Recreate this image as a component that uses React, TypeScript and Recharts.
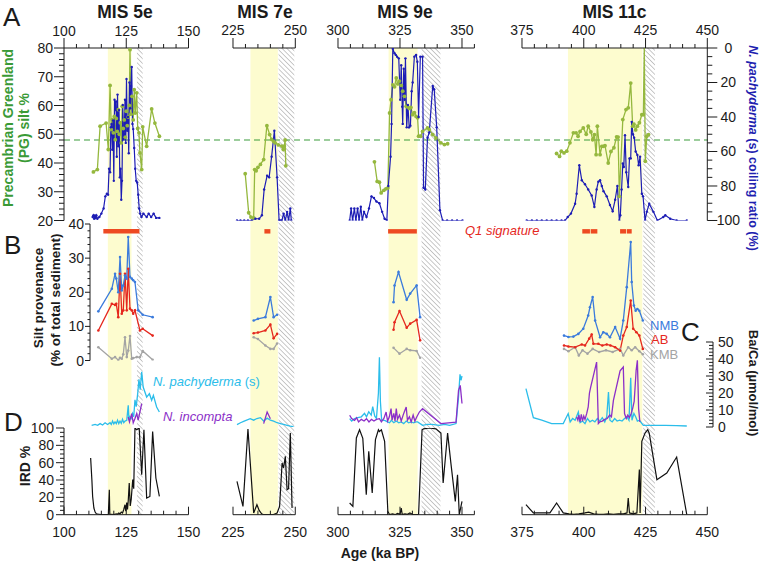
import React from 'react';
import { ComposedChart, Line, XAxis, YAxis, ReferenceArea, ReferenceLine } from 'recharts';

const FONT = '"Liberation Sans", Arial, Helvetica, sans-serif';
const INK = '#1b1b1b';
const C_PG = '#95B83E';
const C_COIL = '#1D1DB5';
const C_NMB = '#3B7BDC';
const C_AB = '#E5281E';
const C_KMB = '#A4A4A4';
const C_PACHY = '#2BBDEA';
const C_INC = '#8C2FC8';
const C_Q1 = '#EE4A22';
const C_YEL = '#FDFCCF';
const C_DASH = '#3A9C3A';
const C_GREEN_TXT = '#3A9A36';
const C_BLUE_TXT = '#1F1FB0';

type P = [number, number];

// ---------------- categories / axes ----------------
const misTitles = ['MIS 5e', 'MIS 7e', 'MIS 9e', 'MIS 11c'];
const ageDomains: [number, number][] = [[100, 150], [225, 250], [300, 355], [375, 450]];
const ageMajor: number[][] = [[100, 125, 150], [225, 250], [300, 325, 350], [375, 400, 425, 450]];
const interglacial: [number, number][] = [[117.6, 127.1], [232, 243], [320.4, 332.1], [393.6, 423.7]];
const termination: [number, number][] = [[129.3, 131.6], [243.3, 249.6], [333.7, 341.3], [424.1, 428.8]];
const q1Signature: [number, number][][] = [
  [[115.8, 130.3]],
  [[237.6, 240]],
  [[320.2, 331.8]],
  [[399.4, 402.5], [402.8, 405.5], [414.7, 417.1], [417.4, 419.4]],
];
const pgThreshold = 48;
const pgMajor = [20, 30, 40, 50, 60, 70, 80];
const coilMajor = [0, 20, 40, 60, 80, 100];
const siltMajor = [0, 10, 20, 30, 40];
const baMajor = [0, 10, 20, 30, 40, 50];
const irdMajor = [0, 20, 40, 60, 80, 100];

// ---------------- Panel A: PG silt % ----------------
const pg5e: P[] = [[111.8,36.9],[113.4,37.7],[114.5,52.8],[116.9,53.9],[117.8,44.7],[118.5,67],[119,51.6],[119.4,55.1],[119.8,50.5],[120.2,56.2],[120.6,48.1],[121,55.5],[121.4,51],[121.8,58.6],[122.2,50],[122.6,54],[123,47],[123.4,59.7],[123.8,52],[124.2,55],[124.6,49],[125,58],[125.4,53],[125.8,56],[126.2,60],[126.5,79.4],[126.9,57],[127.3,63.2],[127.8,55],[128.2,65.5],[128.6,57.4],[129.2,64.4],[129.6,52],[130.1,50.5],[130.5,43.5],[131.2,37.7],[131.6,52.6],[133.2,45.8],[135.2,58.8],[136.5,53.9],[138.3,49.3]];
const pg7e: P[] = [[229.9,36.3],[231.3,22.7],[232.2,21.2],[233.3,20.9],[233.7,37.7],[234.3,37.3],[235,38.5],[236,39.5],[237.3,41.2],[238.6,53],[239.7,49.9],[240.5,48.2],[241.3,47.5],[241.9,47],[243.2,46.3],[244.6,45.9],[245.2,44.7],[245.6,45.9],[245.9,48],[246.2,39]];
const pg9e: P[] = [[314.7,40.4],[315.8,33.6],[316.7,33.3],[317.4,29.6],[318.5,30.5],[319.3,31],[320.1,31.3],[320.8,57.4],[321.4,62],[322.1,67.2],[322.8,66.5],[323.5,69.6],[324.1,67.5],[324.8,68.5],[325.5,67],[326.1,65],[326.8,63.2],[327.5,59.7],[328.1,59.5],[328.8,59],[329.4,59.3],[330.1,56.8],[330.8,57.5],[331.5,56.2],[332.1,55.7],[332.5,49.3],[333.3,49.3],[334.1,51],[336.1,52.2],[336.8,51.6],[338.2,49.9],[339.5,48.7],[341.5,47],[342.9,46.4],[344.2,46.7]];
const pg11c: P[] = [[389,43.3],[390.2,42.3],[390.9,44.1],[392,43.5],[393.1,44.1],[394.4,47],[395.8,50.5],[396.9,50.5],[397.7,49.3],[398.5,51],[399.8,52.2],[401,50],[401.8,52.8],[402.9,50.8],[403.6,48.1],[404.3,49.9],[405,42.9],[405.5,52.8],[406.6,42.9],[407.3,45.8],[407.9,45.8],[408.6,46],[409.9,40],[411,44],[412.2,45.3],[413.3,49.1],[413.9,49],[414.4,28.4],[415.8,55.1],[417.1,58.6],[418,59.2],[419,67.8],[419.8,52.8],[420.3,53.5],[421,51.5],[421.7,52.8],[422.5,54],[423.5,56.8],[424.1,56.8],[424.5,80.5],[424.9,40.6],[425.5,49.3],[426.2,49.9]];

// ---------------- Panel A: N. pachyderma (s) coiling ratio ----------------
const coil5e: P[] = [[111.5,98],[111.8,97],[112.1,99],[112.4,97],[112.7,98.5],[113,97],[113.4,99],[114.2,98],[115,96],[115.9,93],[116.6,86],[117.2,84.5],[117.7,85],[118.1,70],[118.5,72],[118.8,46],[119.1,44],[119.4,59],[119.7,42],[120,77],[120.3,30],[120.6,36],[120.9,31],[121.2,63],[121.5,27],[121.8,57],[122.1,36],[122.4,75],[122.7,70],[123,88],[123.3,77],[123.6,33],[123.9,53],[124.2,50],[124.5,30],[124.8,55],[125.1,18],[125.4,48],[125.7,40],[126,61],[126.3,20],[126.6,35],[126.9,22],[127.2,11],[127.5,44],[127.8,47],[128.2,58],[128.6,70],[129,77],[129.4,78],[129.8,85],[130.2,93],[130.6,96],[131.1,98],[131.9,96],[133.2,98],[134,96],[135,98],[136,96],[137,98.5],[138.3,98.5]];
const coil7e: P[] = [[226.6,100],[228,100],[229.5,100],[231,100],[232.5,100],[234,99],[235.5,99],[236.6,97],[237.5,82],[238.7,74],[239.5,75],[240.5,63],[241.6,48],[242.7,75],[243.5,100],[244,100],[244.6,100],[245.3,96],[246,100],[246.7,95],[247.3,100],[248,93],[248.4,100]];
const coil9e: P[] = [[304.7,100],[305.3,93],[305.9,100],[306.6,93],[307.2,100],[307.9,93],[308.5,100],[309.2,92],[309.8,100],[310.5,95],[311.5,98],[312.5,93],[313.5,86],[314.5,87],[315.5,89],[316.7,90],[317.8,95],[318.8,99],[319.7,100],[320.3,80],[321.2,63],[321.6,44],[322.1,0.5],[322.8,3],[323.3,4],[323.8,5],[324.5,6],[325.1,30],[325.5,10],[325.9,34],[326.1,44],[326.5,12],[326.9,30],[327.2,6],[327.7,46],[328.2,33],[328.7,46],[329.2,45],[329.7,25],[330.1,20],[330.8,5],[331.5,4],[332,8],[332.5,40],[333.2,5],[334.1,5],[334.5,81],[335.2,82],[336.1,52],[336.8,49],[338.2,22],[338.8,24],[339.8,46],[341.1,94],[342.2,100],[344,100],[346,100],[348,100],[350.2,100]];
const coil11c: P[] = [[376.9,100],[379,100],[381,100],[383,100],[385,100],[387,100],[389,100],[391,100],[392.4,100],[393.5,98],[394.8,96],[396.5,90.3],[397.1,84.5],[398.2,68],[399.2,76.7],[400.5,79],[401.8,82],[403.2,85.5],[404.3,92.2],[405.2,82],[405.9,77.5],[406.6,76.7],[407.3,80],[408,83],[409.3,86],[410.6,91],[411.7,94.6],[412.7,88],[413.6,80],[414.4,100],[414.8,97],[415.3,82],[415.8,67],[416.2,69],[416.7,50.6],[417.2,72],[418,80.6],[418.5,64],[419,64],[419.4,42.8],[419.9,50],[420.4,52],[421,60],[421.7,62],[422.2,68],[422.8,63],[423.5,84.5],[424,86],[424.8,100],[425.5,95],[426.5,90.3],[428.2,95],[429.8,100],[432.2,98],[433,97],[435,99],[437.6,100],[441.7,100]];

// ---------------- Panel B: silt provenance ----------------
const nmb5e: P[] = [[113.8,14.4],[119.2,21],[120.5,25.4],[121,24],[121.8,20],[122.5,30.3],[123.2,20.5],[123.8,22],[124.5,24.9],[125.2,24],[125.8,36.2],[126.5,24.5],[127.2,24],[127.8,23.5],[128.5,23],[129.8,14.7],[131.6,13.4],[135.6,12.7]];
const ab5e: P[] = [[113.8,8.8],[119.2,16.6],[120.5,16.3],[121,16.6],[121.8,12.7],[122.5,25.4],[123.2,13.7],[123.8,14.7],[124.5,25.4],[125.2,14.7],[125.8,26.9],[126.5,15.2],[127.2,14.7],[127.8,13.7],[128.5,14.7],[130.5,8.8],[131.6,9.3],[135.6,7.3]];
const kmb5e: P[] = [[113.8,3.9],[119.2,0.5],[120.5,1],[121.8,0.1],[122.5,0.8],[123.2,0.5],[123.8,1.8],[124.5,6.8],[125.2,1],[125.8,2.9],[126.5,7.2],[127.2,0.5],[127.8,0.7],[129.2,1],[130.5,1],[131.6,2.8],[135.6,0.2]];
const nmb7e: P[] = [[233.3,11.7],[235,12.2],[238,12.7],[240,18.6],[241.3,12.7],[242.7,13.4]];
const ab7e: P[] = [[233.3,8],[235,8.2],[238,8.8],[240,10.5],[241.3,6.5],[242.7,7.8]];
const kmb7e: P[] = [[233.3,6.8],[235,6.3],[238,4.4],[240,3.4],[241.3,3.4],[242.7,5]];
const nmb9e: P[] = [[322.4,17.1],[322.8,22],[324.4,25.9],[327.7,17.8],[329.1,19.6],[331.7,22],[333.1,12.7]];
const ab9e: P[] = [[322.4,9],[322.8,11.2],[324.8,14.5],[327.7,9.6],[329.1,10.8],[331.7,11.9],[333.1,5.9]];
const kmb9e: P[] = [[322.4,3.7],[324.8,2],[327.7,3.4],[329.1,3],[331.7,2.8],[333.1,0.8]];
const nmb11c: P[] = [[392,7.3],[393.8,6.9],[395.8,7],[397.8,7.8],[399.8,9.3],[401.8,13.2],[402.5,15.6],[403.6,18.6],[404.6,11.7],[406.6,6.8],[407.9,8.3],[409.3,7.8],[410.6,6.8],[412.7,9.8],[414.7,6.4],[416,11.7],[417.4,21.5],[419,34.7],[419.4,23],[420.3,16.1],[421,14.6],[421.7,15.1],[422.5,14.6],[423.9,11.7]];
const ab11c: P[] = [[392,4.4],[393.8,4.1],[396.5,3.9],[399.2,4.7],[400.5,4.4],[402.2,6.4],[403.2,7.6],[403.9,4.9],[405.9,4.9],[407.5,4.4],[409.3,4.7],[410.8,4.4],[412.7,3.9],[414.7,2.9],[416,7.3],[417.4,9.8],[419,17.6],[420,9.3],[421.3,8.3],[422.5,7.3],[423.9,3.4]];
const kmb11c: P[] = [[392,3.4],[393.8,2.7],[396.5,3.9],[398,1.5],[399.5,3],[401.5,2],[403.6,3.4],[406.2,2.5],[409,3],[411.7,2.5],[414.7,3.4],[416,1.5],[418,3.9],[419.4,3],[420.8,3.9],[422.5,2.7],[423.9,1.8]];

// ---------------- Panel C: foraminiferal Ba/Ca ----------------
const pachy5e: P[] = [[111.1,1],[112.5,1.5],[113.5,1],[114.5,2],[115.5,1.2],[116.5,2.5],[117.5,1.5],[118.5,2.5],[119,1.5],[119.5,3.5],[120,1.8],[120.5,3],[121,2],[121.5,4],[122,2],[122.5,3.5],[123,2.2],[123.5,4.5],[124,2.5],[124.5,3.5],[125.2,3.9],[125.8,12.8],[126.1,4],[126.5,6],[127,5],[127.5,8],[128,6],[128.5,16],[129,12],[129.6,19.6],[130.1,28],[130.6,22],[131.2,32.4],[131.8,23.5],[133.2,17.6],[134.3,19.6],[135.2,15.7],[135.9,18.6],[137.2,11.8],[138.3,8.8]];
const incom5e: P[] = [[125.8,5.9],[126.3,3],[127.2,7.9],[127.8,2.5],[128.5,5],[129.2,7.9],[129.8,4],[131.2,13.8]];
const pachy7e: P[] = [[226.6,1.4],[228,2.5],[229.5,3.5],[231.9,4.9],[233.3,4],[234.6,5],[236,5.5],[237.3,3.5],[238.7,5.2],[240,4],[241.3,3.5],[242.7,2.5],[244,2],[245.3,1.5],[246.7,1],[248,0.5],[249.3,0.2]];
const incom7e: P[] = [[237.3,2],[238.7,8.8],[240,4.9]];
const pachy9e: P[] = [[304.7,4.9],[305.5,3.5],[306.7,4.9],[308,5.5],[309.4,6],[310.7,8],[311.5,6],[312.4,9],[313.4,7],[314,12],[314.8,6.5],[315.5,5],[316.3,20],[316.7,41],[317.1,15],[317.6,4],[318.8,3.9],[320,3],[320.8,2.5],[321.5,4],[322.5,2.5],[323.5,3.5],[324.5,2.5],[325.5,3],[326.5,2],[327.5,3.5],[328.5,2.5],[329.5,3],[330.5,2.5],[331.5,3],[332.1,3],[334.1,1],[336,1.5],[338,1.5],[340.8,1],[343,1.5],[345,1],[347.6,2],[348.6,17.6],[349.2,31],[349.6,27.5],[350,30]];
const incom9e: P[] = [[304.7,6.9],[305.5,5],[306.7,3.9],[307.5,5.5],[308.3,3],[309.4,4.5],[310.5,3.5],[311.5,4.9],[312.5,3],[313.5,4.5],[314.5,3.5],[315.5,4.5],[316.7,4.9],[317.5,3],[318.5,5],[319.4,8.8],[320,3.5],[320.7,6],[321.4,10.8],[321.8,4],[322.5,8],[323,3.5],[323.5,10.8],[324,4.5],[324.8,7],[325.5,3.5],[326.5,8],[327.5,11.8],[328,4],[328.8,6],[329.5,3],[330.3,7],[331,3.5],[331.8,6],[332.8,8.8],[334.1,10.8],[341.5,2],[347.6,2.9],[348.6,21.6],[349.3,24.5],[350,13.8]];
const pachy11c: P[] = [[376.6,22.6],[379.6,5.5],[383,4],[387,2],[391.7,2],[393.7,7.9],[394.5,3],[395.5,5],[396.5,4],[397.8,8.8],[398.5,2.5],[399.5,3.5],[400.5,2],[401.5,5],[402.5,3],[403.5,4],[404.5,3],[405.5,5],[406.5,3.5],[407.5,5.5],[408.5,3],[409.3,6],[410,20.6],[410.6,4],[411.5,3],[412.5,5],[413.5,3.5],[414.5,4],[415.5,3.5],[416.5,5],[417.5,6],[418.3,4],[419,29],[419.5,4],[420.3,8],[421,6],[421.7,3.5],[422.5,4],[423.3,2.5],[424.1,1],[428,1],[433,1],[437.6,0.8],[441.7,0.6]];
const incom11c: P[] = [[397.1,5.9],[397.6,4],[398,7],[398.5,3],[399,7.5],[399.5,3.5],[400,6.5],[400.5,4.5],[401.2,8],[401.8,11.8],[402.3,20],[402.8,23.5],[405.2,38.2],[405.9,2],[406.5,3],[407.5,3.5],[408.5,4.5],[409.5,5],[410.5,7],[411.2,6],[412,15.7],[414.7,33],[416,35.3],[416.5,7.9],[417.2,5],[417.8,7],[418.5,5.5],[419.2,8],[419.8,11],[420.4,15],[420.7,21.6],[421.2,33.4],[421.7,39.2],[422.2,10.8],[422.7,3]];

// ---------------- Panel D: IRD % ----------------
const ird5e: P[] = [[110.7,65.4],[111.2,40],[111.5,21],[112,7.7],[112.5,3],[113,1],[114,0.5],[115,0],[116,0],[117,0],[117.8,0],[118.2,28.8],[118.4,0],[119,0.5],[120,0],[121,1],[121.5,0.5],[122,2],[122.5,1],[123,3],[123.5,2],[124,6],[124.5,11.5],[124.8,4],[125.2,14],[125.5,6],[125.8,16],[126.2,36.5],[126.6,10],[127,18],[127.6,40.4],[128,30],[128.5,100],[129.2,98],[130.2,100],[131.2,46],[132.1,98],[133.2,19.2],[134.5,21],[135.6,96],[136.9,42.3],[138.3,21]];
const ird7e: P[] = [[226.6,38.4],[229,9.6],[231,98.8],[233.3,2],[234.6,11.5],[235.5,5],[236.5,1],[237.3,0],[239,0],[241,0],[242.7,2],[243.7,9.6],[244.7,59.6],[245.3,54],[246,67.3],[246.7,28.8],[247.3,30],[248,94.2],[248.7,7.7]];
const ird9e: P[] = [[304.7,13.5],[306,9.6],[307.4,88.5],[308.7,98],[310,88],[311.4,23],[312.4,73],[313.8,25],[315.1,86.5],[316.3,98],[316.7,96],[317.5,98],[318.8,84.5],[320.1,3.8],[320.8,0],[322,1],[323,0],[324,1.5],[325,0.5],[325.5,7.7],[325.9,0],[327,1],[328,0.5],[329,2],[330,0.5],[331.5,0],[332.5,0.5],[333.9,98],[334.5,99],[336.8,100],[339.5,99],[341.5,94.2],[342.4,36.5],[344.2,94.2],[345.5,60],[347.3,15.4],[348.2,46],[348.9,0],[350,15.4]];
const ird11c: P[] = [[376.6,11.5],[379.6,2],[383,2],[386.3,2],[389,13.5],[391.7,2],[394,1],[396,0.5],[398,1],[400.5,2],[402,3],[404,1],[406,0.5],[408,0.5],[410,1],[412,0.5],[414,1],[416,1],[417.5,2],[418,19.2],[418.5,2],[420,1],[421.5,2],[422.5,52],[422.8,2],[423.5,84.6],[424.8,94.2],[425.9,98],[426.5,94],[429.6,40.4],[433.6,48.1],[437.6,66.5],[441.7,0]];

const pgSeries = [pg5e, pg7e, pg9e, pg11c];
const coilSeries = [coil5e, coil7e, coil9e, coil11c];
const nmbSeries = [nmb5e, nmb7e, nmb9e, nmb11c];
const abSeries = [ab5e, ab7e, ab9e, ab11c];
const kmbSeries = [kmb5e, kmb7e, kmb9e, kmb11c];
const pachySeries = [pachy5e, pachy7e, pachy9e, pachy11c];
const incomSeries = [incom5e, incom7e, incom9e, incom11c];
const irdSeries = [ird5e, ird7e, ird9e, ird11c];

// ---------------- layout (pixels) ----------------
const LAYOUT = {
  colPx: [[64, 188.5], [232.7, 295], [338.3, 474.7], [522, 707.3]],
  titleX: [125, 265, 405, 614.5],
  A: [48, 220.5],
  B: [223.5, 360],
  C: [341.7, 426.7],
  D: [428.3, 515],
  bAxisX: 90,
  cAxisX: 713,
};
const PAD = 44;

const rows = (a: P[]) => a.map(([x, y]) => ({ x, y }));
const steps = (a: number, b: number, s: number) => {
  const r: number[] = [];
  for (let v = a; v <= b + 1e-9; v += s) r.push(Math.round(v * 1000) / 1000);
  return r;
};
const kaAt = (i: number, px: number) => {
  const [d0, d1] = ageDomains[i];
  const [p0, p1] = LAYOUT.colPx[i];
  return d0 + ((px - p0) * (d1 - d0)) / (p1 - p0);
};

// ---------------- tick renderers ----------------
const txt = { fontFamily: FONT, fontSize: 14, fill: INK } as const;
const topTick = (major: number[]) => (p: any) => {
  const { x, y, payload } = p;
  const M = major.includes(payload.value);
  return (
    <g>
      <line x1={x} x2={x} y1={y} y2={y - (M ? 10 : 4)} stroke={INK} strokeWidth={1} />
      {M && <text x={x} y={y - 12.5} textAnchor="middle" {...txt}>{payload.value}</text>}
    </g>
  );
};
const bottomTick = (major: number[]) => (p: any) => {
  const { x, y, payload } = p;
  const M = major.includes(payload.value);
  return (
    <g>
      <line x1={x} x2={x} y1={y} y2={y - (M ? 8 : 4)} stroke={INK} strokeWidth={1} />
      {M && <text x={x} y={y + 22} textAnchor="middle" {...txt}>{payload.value}</text>}
    </g>
  );
};
const leftTick = (major: number[], len: number, gap: number) => (p: any) => {
  const { x, y, payload } = p;
  const M = major.includes(payload.value);
  return (
    <g>
      <line x1={x} x2={x - (M ? len : len / 2)} y1={y} y2={y} stroke={INK} strokeWidth={1} />
      {M && <text x={x - gap} y={y + 5} textAnchor="end" {...txt}>{payload.value}</text>}
    </g>
  );
};
const rightOutTick = (major: number[]) => (p: any) => {
  const { x, y, payload } = p;
  const M = major.includes(payload.value);
  return (
    <g>
      <line x1={x} x2={x + (M ? 10 : 5)} y1={y} y2={y} stroke={INK} strokeWidth={1} />
      {M && <text x={x + 21} y={y + 5} textAnchor="middle" {...txt}>{payload.value}</text>}
    </g>
  );
};
const rightInTick = (major: number[]) => (p: any) => {
  const { x, y, payload } = p;
  const M = major.includes(payload.value);
  return (
    <g>
      <line x1={x} x2={x - (M ? 7 : 4)} y1={y} y2={y} stroke={INK} strokeWidth={1} />
      {M && <text x={x + 5} y={y + 5} textAnchor="start" {...txt}>{payload.value}</text>}
    </g>
  );
};

type Sides = { t?: boolean; b?: boolean; l?: boolean; r?: boolean };
function Frame(props: { x0: number; x1: number; y0: number; y1: number; sides: Sides; data?: any[]; children: React.ReactNode }) {
  const { x0, x1, y0, y1, sides, data, children } = props;
  const W = x1 - x0 + 2 * PAD;
  const H = y1 - y0 + 2 * PAD;
  return (
    <div style={{ position: 'absolute', left: x0 - PAD, top: y0 - PAD, width: W, height: H }}>
      <ComposedChart
        width={W}
        height={H}
        data={data}
        margin={{ top: sides.t ? 0 : PAD, bottom: sides.b ? 0 : PAD, left: sides.l ? 0 : PAD, right: sides.r ? 0 : PAD }}
      >
        {children}
      </ComposedChart>
    </div>
  );
}

const axisLine = { stroke: INK, strokeWidth: 1 };

function Column({ i }: { i: number }) {
  const [x0, x1] = LAYOUT.colPx[i];
  const dom = ageDomains[i];
  const first = i === 0;
  const last = i === 3;
  const ageTicks = steps(dom[0], dom[1], 5);
  const bx0 = first ? LAYOUT.bAxisX : x0;
  const bDom: [number, number] = [first ? kaAt(i, LAYOUT.bAxisX) : dom[0], dom[1]];
  const cx1 = last ? LAYOUT.cAxisX : x1;
  const cDom: [number, number] = [dom[0], last ? kaAt(i, LAYOUT.cAxisX) : dom[1]];
  const dot = (c: string, r: number) => ({ r, fill: c, stroke: 'none' });

  return (
    <>
      {/* Panel A */}
      <Frame x0={x0} x1={x1} y0={LAYOUT.A[0]} y1={LAYOUT.A[1]} sides={{ t: true, l: first, r: last }}>
        <XAxis type="number" dataKey="x" orientation="top" domain={dom} allowDataOverflow ticks={ageTicks} interval={0}
          height={PAD} tickSize={0} tickMargin={0} tickLine={false} axisLine={axisLine} tick={topTick(ageMajor[i])} />
        <YAxis yAxisId="pg" orientation="left" type="number" domain={[20, 80]} allowDataOverflow hide={!first}
          ticks={steps(20, 80, 2)} interval={0} width={PAD} tickSize={0} tickMargin={0} tickLine={false}
          axisLine={axisLine} tick={leftTick(pgMajor, 10, 11)} />
        <YAxis yAxisId="coil" orientation="right" type="number" domain={[0, 100]} reversed allowDataOverflow hide={!last}
          ticks={steps(0, 100, 5)} interval={0} width={PAD} tickSize={0} tickMargin={0} tickLine={false}
          axisLine={axisLine} tick={rightOutTick(coilMajor)} />
        <Line yAxisId="pg" data={rows(pgSeries[i])} dataKey="y" stroke={C_PG} strokeWidth={1.3} dot={dot(C_PG, 1.9)} isAnimationActive={false} />
        <Line yAxisId="coil" data={rows(coilSeries[i])} dataKey="y" stroke={C_COIL} strokeWidth={1.2} dot={dot(C_COIL, 1.2)} isAnimationActive={false} />
      </Frame>
      {/* Panel B */}
      <Frame x0={bx0} x1={x1} y0={LAYOUT.B[0]} y1={LAYOUT.B[1]} sides={{ l: first }}>
        <XAxis type="number" dataKey="x" domain={bDom} allowDataOverflow hide />
        <YAxis yAxisId="s" type="number" domain={[0, 40]} allowDataOverflow hide={!first}
          ticks={steps(0, 40, 2)} interval={0} width={PAD} tickSize={0} tickMargin={0} tickLine={false}
          axisLine={axisLine} tick={leftTick(siltMajor, 5, 6)} />
        {q1Signature[i].map(([a, b], k) => (
          <ReferenceArea key={k} yAxisId="s" x1={a} x2={b} y1={37.2} y2={38.5} fill={C_Q1} fillOpacity={1} stroke="none" ifOverflow="visible" />
        ))}
        <Line yAxisId="s" data={rows(kmbSeries[i])} dataKey="y" stroke={C_KMB} strokeWidth={1.3} dot={dot(C_KMB, 1.3)} isAnimationActive={false} />
        <Line yAxisId="s" data={rows(abSeries[i])} dataKey="y" stroke={C_AB} strokeWidth={1.3} dot={dot(C_AB, 1.3)} isAnimationActive={false} />
        <Line yAxisId="s" data={rows(nmbSeries[i])} dataKey="y" stroke={C_NMB} strokeWidth={1.3} dot={dot(C_NMB, 1.3)} isAnimationActive={false} />
      </Frame>
      {/* Panel C */}
      <Frame x0={x0} x1={cx1} y0={LAYOUT.C[0]} y1={LAYOUT.C[1]} sides={{ r: last }}>
        <XAxis type="number" dataKey="x" domain={cDom} allowDataOverflow hide />
        <YAxis yAxisId="ba" orientation="right" type="number" domain={[0, 50]} allowDataOverflow hide={!last}
          ticks={steps(0, 50, 2)} interval={0} width={PAD} tickSize={0} tickMargin={0} tickLine={false}
          axisLine={axisLine} tick={rightInTick(baMajor)} />
        <Line yAxisId="ba" data={rows(pachySeries[i])} dataKey="y" stroke={C_PACHY} strokeWidth={1.3} dot={false} isAnimationActive={false} />
        <Line yAxisId="ba" data={rows(incomSeries[i])} dataKey="y" stroke={C_INC} strokeWidth={1.3} dot={false} isAnimationActive={false} />
      </Frame>
      {/* Panel D */}
      <Frame x0={x0} x1={x1} y0={LAYOUT.D[0]} y1={LAYOUT.D[1]} sides={{ b: true, l: first }}>
        <XAxis type="number" dataKey="x" orientation="bottom" domain={dom} allowDataOverflow ticks={ageTicks} interval={0}
          height={PAD} tickSize={0} tickMargin={0} tickLine={false} axisLine={axisLine} tick={bottomTick(ageMajor[i])} />
        <YAxis yAxisId="ird" type="number" domain={[0, 100]} allowDataOverflow hide={!first}
          ticks={steps(0, 100, 5)} interval={0} width={PAD} tickSize={0} tickMargin={0} tickLine={false}
          axisLine={axisLine} tick={leftTick(irdMajor, 8, 10)} />
        <Line yAxisId="ird" data={rows(irdSeries[i])} dataKey="y" stroke="#111" strokeWidth={1.2} dot={false} isAnimationActive={false} />
      </Frame>
    </>
  );
}

function Background({ i }: { i: number }) {
  const [x0, x1] = LAYOUT.colPx[i];
  const dom = ageDomains[i];
  const id = `hatch${i}`;
  return (
    <Frame x0={x0} x1={x1} y0={LAYOUT.A[0]} y1={LAYOUT.D[1]} sides={{}} data={[{ x: dom[0], y: 0 }, { x: dom[1], y: 1 }]}>
      <defs>
        <pattern id={id} patternUnits="userSpaceOnUse" width={3.4} height={3.4} patternTransform="rotate(-45)">
          <rect width={3.4} height={3.4} fill="#ffffff" />
          <line x1={0} y1={0} x2={0} y2={3.4} stroke="#ADADAD" strokeWidth={1.3} />
        </pattern>
      </defs>
      <XAxis type="number" dataKey="x" domain={dom} allowDataOverflow hide />
      <YAxis type="number" dataKey="y" domain={[0, 1]} hide />
      <ReferenceArea x1={interglacial[i][0]} x2={interglacial[i][1]} y1={0} y2={1} fill={C_YEL} fillOpacity={1} stroke="none" />
      <ReferenceArea x1={termination[i][0]} x2={termination[i][1]} y1={0} y2={1} fill={`url(#${id})`} fillOpacity={1} stroke="none" />
    </Frame>
  );
}

function Threshold() {
  return (
    <Frame x0={LAYOUT.colPx[0][0]} x1={708} y0={LAYOUT.A[0]} y1={LAYOUT.A[1]} sides={{}} data={[{ x: 0, y: pgThreshold }, { x: 1, y: pgThreshold }]}>
      <XAxis type="number" dataKey="x" domain={[0, 1]} hide />
      <YAxis type="number" dataKey="y" domain={[20, 80]} hide />
      <ReferenceLine y={pgThreshold} stroke={C_DASH} strokeWidth={1.2} strokeDasharray="6 4" />
    </Frame>
  );
}

export default function App() {
  const bold = { fontFamily: FONT, fontWeight: 700 } as const;
  return (
    <div style={{ position: 'absolute', left: 0, top: 0, width: 762, height: 564, background: '#fff', overflow: 'hidden' }}>
      {[0, 1, 2, 3].map((i) => <Background key={`bg${i}`} i={i} />)}
      <Threshold />
      {[0, 1, 2, 3].map((i) => <Column key={`c${i}`} i={i} />)}
      <svg width={762} height={564} style={{ position: 'absolute', left: 0, top: 0, pointerEvents: 'none' }}>
        <g fontFamily={FONT} fill={INK}>
          <text x={3} y={26} fontSize={26}>A</text>
          <text x={4} y={254} fontSize={26}>B</text>
          <text x={681} y={341} fontSize={26}>C</text>
          <text x={4} y={431} fontSize={26}>D</text>
        </g>
        {misTitles.map((t, i) => (
          <text key={t} x={LAYOUT.titleX[i]} y={18} textAnchor="middle" fontSize={17.5} {...bold} fill={INK}>{t}</text>
        ))}
        <g {...bold} fontSize={14} fill={C_GREEN_TXT} textAnchor="middle">
          <text transform="translate(13,128) rotate(-90)">Precambrian Greenland</text>
          <text transform="translate(29,128) rotate(-90)">(PG) silt %</text>
        </g>
        <g {...bold} fontSize={13.5} fill={INK} textAnchor="middle">
          <text transform="translate(43,298) rotate(-90)">Silt provenance</text>
          <text transform="translate(60,300) rotate(-90)">(% of total sediment)</text>
          <text transform="translate(30,466) rotate(-90)" fontSize={14}>IRD %</text>
          <text transform="translate(749,383) rotate(90)" fontSize={13}>Ba/Ca (µmol/mol)</text>
          <text x={380} y={558} fontSize={14}>Age (ka BP)</text>
        </g>
        <text transform="translate(749,148) rotate(90)" textAnchor="middle" fontSize={12.5} {...bold} fill={C_BLUE_TXT}>
          <tspan fontStyle="italic">N. pachyderma</tspan> (s) coiling ratio (%)
        </text>
        <text x={465} y={235} fontSize={13} fontStyle="italic" fontFamily={FONT} fill={C_AB}>Q1 signature</text>
        <g fontFamily={FONT} fontSize={13}>
          <text x={650} y={330} fill={C_NMB}>NMB</text>
          <text x={651} y={344} fill={C_AB}>AB</text>
          <text x={650} y={359} fill={C_KMB}>KMB</text>
        </g>
        <text x={153} y={386} fontSize={13} fontFamily={FONT} fill={C_PACHY}>
          <tspan fontStyle="italic">N. pachyderma</tspan> (s)
        </text>
        <text x={163} y={421} fontSize={13} fontFamily={FONT} fontStyle="italic" fill={C_INC}>N. incompta</text>
      </svg>
    </div>
  );
}
